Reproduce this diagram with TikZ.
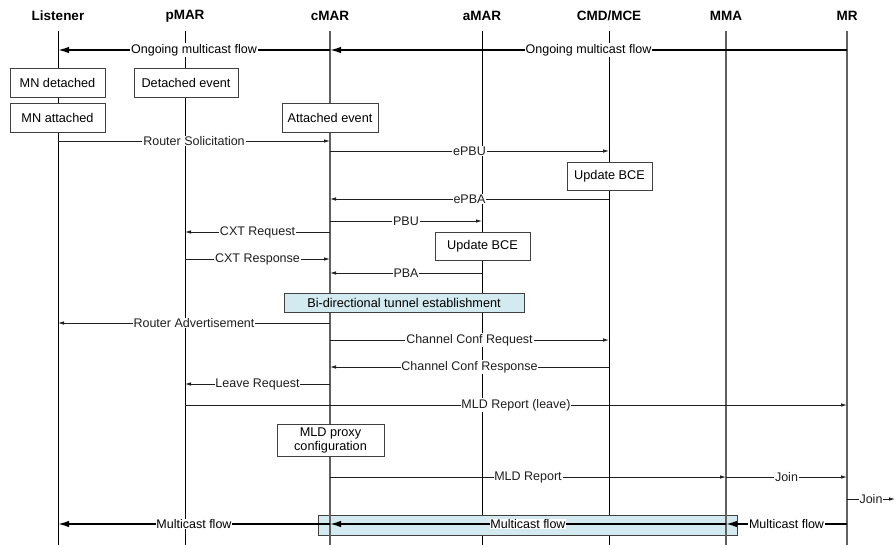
\documentclass[tikz,border=0pt]{standalone}
\usepackage{fontspec}
\setmainfont{Liberation Sans}
\usetikzlibrary{arrows.meta}
\definecolor{bandblue}{RGB}{210,234,240}
\newcommand\seqmsg[5]{%
  \coordinate (#2-#4) at (#2 |- 0,#4);
  \coordinate (#3-#4) at (#3 |- 0,#4);
  \draw[#1] (#2-#4) -- node[lbl]{#5} (#3-#4);}
\begin{document}
\begin{tikzpicture}[x=1pt,y=-1pt,
  hdr/.style={font=\fontsize{13.5}{15}\selectfont\bfseries, inner sep=0pt},
  life/.style={line width=0.8pt, black},
  lifeg/.style={line width=1.3pt, black!62},
  box/.style={draw=black!75, line width=0.9pt, fill=white, inner sep=0pt,
    font=\fontsize{12.7}{14}\selectfont, align=center},
  lbl/.style={fill=white, inner sep=0.8pt, font=\fontsize{12.5}{14}\selectfont},
  msg/.style={line width=0.8pt, black!88, -{Latex[length=6pt,width=3.5pt]}},
  flow/.style={line width=1.6pt, -{Latex[length=11pt,width=6.5pt]}},
]
\useasboundingbox (0,0) rectangle (896,547);

% headers
\node[hdr] (Listener) at (58,16) {Listener};
\node[hdr] (pMAR) at (185,16) {pMAR};
\node[hdr] (cMAR) at (330,16) {cMAR};
\node[hdr] (aMAR) at (482,16) {aMAR};
\node[hdr] (CMD) at (609,16) {CMD/MCE};
\node[hdr] (MMA) at (726,16) {MMA};
\node[hdr] (MR) at (847,16) {MR};

% lifelines (thin)
\foreach \n in {Listener,pMAR,aMAR,CMD}
  \draw[life] (\n |- 0,31) -- (\n |- 0,545);

% multicast band
\node[box, fill=bandblue, minimum width=419pt, minimum height=20pt] (band) at (527.5,525) {};

% lifelines (gray)
\foreach \n in {cMAR,MMA,MR}
  \draw[lifeg] (\n |- 0,31) -- (\n |- 0,545);

% messages
\seqmsg{flow}{MR}{cMAR}{50}{Ongoing multicast flow}
\seqmsg{flow}{cMAR}{Listener}{50}{Ongoing multicast flow}
\seqmsg{msg}{Listener}{cMAR}{141}{Router Solicitation}
\seqmsg{msg}{cMAR}{CMD}{151}{ePBU}
\seqmsg{msg}{CMD}{cMAR}{199}{ePBA}
\seqmsg{msg}{cMAR}{aMAR}{221}{PBU}
\seqmsg{msg}{cMAR}{pMAR}{232}{CXT Request}
\seqmsg{msg}{pMAR}{cMAR}{259}{CXT Response}
\seqmsg{msg}{aMAR}{cMAR}{273}{PBA}
\seqmsg{msg}{cMAR}{Listener}{323}{Router Advertisement}
\seqmsg{msg}{cMAR}{CMD}{340}{Channel Conf Request}
\seqmsg{msg}{CMD}{cMAR}{367}{Channel Conf Response}
\seqmsg{msg}{cMAR}{pMAR}{384}{Leave Request}
\seqmsg{msg}{pMAR}{MR}{405}{MLD Report (leave)}
\seqmsg{msg}{cMAR}{MMA}{477}{MLD Report}
\seqmsg{msg}{MMA}{MR}{477}{Join}
\coordinate (Edge) at (895,499);
\coordinate (MR-499) at (MR |- 0,499);
\draw[msg] (MR-499) -- node[lbl]{Join} (Edge);
\seqmsg{flow}{MR}{MMA}{524}{Multicast flow}
\seqmsg{flow}{MMA}{cMAR}{524}{Multicast flow}
\seqmsg{flow}{cMAR}{Listener}{524}{Multicast flow}

% boxes
\node[box, minimum width=95pt, minimum height=29pt] (mndet) at (57.5,82.5) {MN detached};
\node[box, minimum width=104pt, minimum height=29pt] (detev) at (186,82.5) {Detached event};
\node[box, minimum width=95pt, minimum height=29pt] (mnatt) at (57.5,117.5) {MN attached};
\node[box, minimum width=96pt, minimum height=29pt] (attev) at (330,117.5) {Attached event};
\node[box, minimum width=85pt, minimum height=28pt] (bce1) at (609.5,176) {Update BCE};
\node[box, minimum width=95pt, minimum height=28pt] (bce2) at (482.5,246) {Update BCE};
\node[box, fill=bandblue, minimum width=240pt, minimum height=19pt] (tunnel) at (404,302.5) {Bi-directional tunnel establishment};
\node[box, minimum width=107pt, minimum height=32pt] (mldproxy) at (330.5,440) {MLD proxy\\configuration};
\end{tikzpicture}
\end{document}
